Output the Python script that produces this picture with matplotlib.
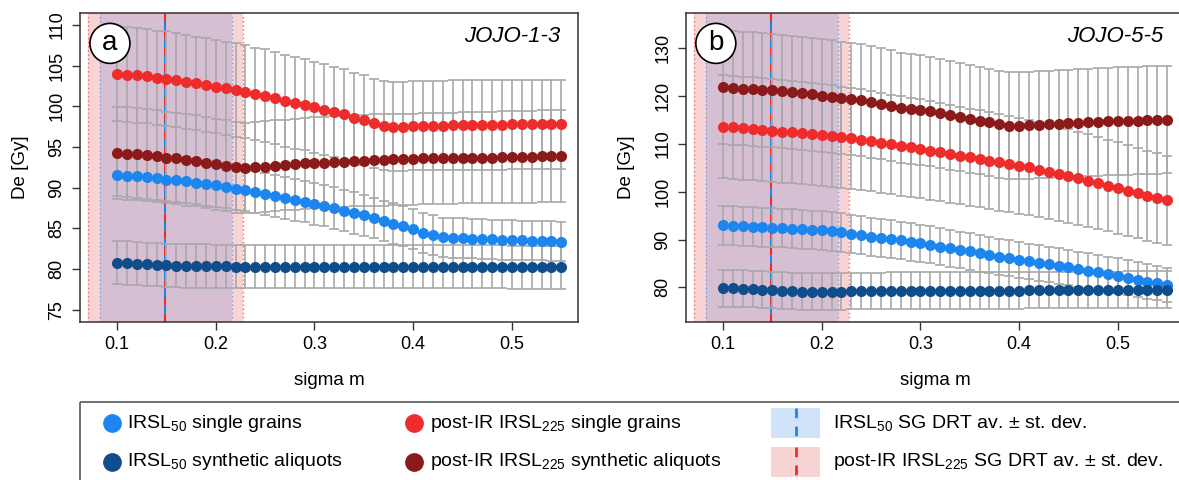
import numpy as np
import matplotlib
matplotlib.use("Agg")
from matplotlib import pyplot as plt
from matplotlib.patches import Ellipse, Rectangle

plt.rcParams['font.family'] = ['Liberation Sans', 'DejaVu Sans']
plt.rcParams['mathtext.fontset'] = 'custom'
plt.rcParams['mathtext.rm'] = 'Liberation Sans'
plt.rcParams['mathtext.default'] = 'regular'

#%% data
sigma_m = [0.10, 0.11, 0.12, 0.13, 0.14, 0.15, 0.16, 0.17, 0.18, 0.19,
           0.20, 0.21, 0.22, 0.23, 0.24, 0.25, 0.26, 0.27, 0.28, 0.29,
           0.30, 0.31, 0.32, 0.33, 0.34, 0.35, 0.36, 0.37, 0.38, 0.39,
           0.40, 0.41, 0.42, 0.43, 0.44, 0.45, 0.46, 0.47, 0.48, 0.49,
           0.50, 0.51, 0.52, 0.53, 0.54, 0.55]

# JOJO-1-3
a_irsl50_sg = [91.6, 91.5, 91.4, 91.3, 91.2, 91.0, 90.9, 90.8, 90.6, 90.4,
               90.3, 90.1, 89.9, 89.7, 89.5, 89.2, 89.0, 88.8, 88.5, 88.3,
               88.0, 87.8, 87.5, 87.2, 86.9, 86.6, 86.3, 85.9, 85.6, 85.3,
               84.9, 84.5, 84.2, 83.9, 83.85, 83.8, 83.75, 83.7, 83.65, 83.6,
               83.6, 83.55, 83.5, 83.5, 83.45, 83.4]
a_irsl50_sa = [80.8, 80.75, 80.7, 80.6, 80.55, 80.5, 80.45, 80.4, 80.4, 80.4,
               80.35, 80.35, 80.3, 80.3, 80.3, 80.3, 80.3, 80.3, 80.3, 80.3,
               80.3, 80.3, 80.3, 80.3, 80.3, 80.3, 80.3, 80.3, 80.3, 80.3,
               80.3, 80.3, 80.3, 80.3, 80.3, 80.3, 80.3, 80.3, 80.3, 80.3,
               80.25, 80.25, 80.25, 80.25, 80.25, 80.25]
a_pirir_sg = [104.0, 103.9, 103.8, 103.7, 103.5, 103.4, 103.2, 103.0, 102.8, 102.6,
              102.4, 102.2, 102.0, 101.8, 101.5, 101.3, 101.0, 100.7, 100.4, 100.2,
              99.9, 99.6, 99.3, 99.0, 98.6, 98.3, 97.9, 97.6, 97.5, 97.5,
              97.6, 97.6, 97.6, 97.6, 97.7, 97.7, 97.7, 97.7, 97.7, 97.7,
              97.8, 97.8, 97.8, 97.8, 97.8, 97.8]
a_pirir_sa = [94.3, 94.2, 94.1, 94.0, 93.9, 93.7, 93.6, 93.4, 93.3, 93.1,
              92.9, 92.7, 92.5, 92.4, 92.5, 92.6, 92.7, 92.8, 92.9, 93.0,
              93.1, 93.1, 93.2, 93.2, 93.3, 93.3, 93.4, 93.4, 93.5, 93.5,
              93.5, 93.6, 93.6, 93.6, 93.6, 93.7, 93.7, 93.7, 93.7, 93.8,
              93.8, 93.8, 93.8, 93.9, 93.9, 93.9]

# JOJO-5-5
b_irsl50_sg = [93.0, 92.9, 92.8, 92.7, 92.6, 92.5, 92.4, 92.3, 92.1, 92.0,
               91.9, 91.7, 91.5, 91.2, 90.9, 90.6, 90.3, 90.1, 89.8, 89.5,
               89.2, 88.9, 88.5, 88.2, 87.8, 87.5, 87.1, 86.8, 86.4, 86.1,
               85.7, 85.4, 85.1, 84.8, 84.5, 84.2, 83.8, 83.5, 83.1, 82.8,
               82.4, 82.0, 81.6, 81.2, 80.9, 80.5]
b_irsl50_sa = [79.8, 79.8, 79.7, 79.6, 79.5, 79.4, 79.3, 79.2, 79.1, 79.1,
               79.1, 79.1, 79.1, 79.2, 79.2, 79.2, 79.2, 79.3, 79.3, 79.3,
               79.3, 79.3, 79.3, 79.3, 79.3, 79.3, 79.3, 79.3, 79.3, 79.3,
               79.3, 79.4, 79.4, 79.4, 79.4, 79.4, 79.4, 79.4, 79.4, 79.4,
               79.4, 79.5, 79.5, 79.5, 79.5, 79.5]
b_pirir_sg = [113.6, 113.5, 113.3, 113.2, 113.0, 112.8, 112.6, 112.4, 112.3, 112.1,
              111.9, 111.7, 111.4, 111.2, 110.9, 110.6, 110.2, 109.9, 109.6, 109.3,
              108.95, 108.6, 108.25, 107.9, 107.55, 107.2, 106.85, 106.5, 106.15, 105.8,
              105.45, 105.1, 104.6, 104.2, 103.8, 103.3, 102.8, 102.3, 101.8, 101.3,
              100.8, 100.2, 99.7, 99.2, 98.7, 98.2]
b_pirir_sa = [121.9, 121.8, 121.6, 121.5, 121.3, 121.2, 121.0, 120.8, 120.6, 120.4,
              120.1, 119.9, 119.7, 119.45, 119.2, 118.8, 118.4, 118.0, 117.6, 117.3,
              117.1, 116.8, 116.4, 116.0, 115.6, 115.25, 114.9, 114.5, 114.1, 113.8,
              113.8, 113.9, 114.0, 114.1, 114.2, 114.3, 114.4, 114.5, 114.6, 114.7,
              114.8, 114.8, 114.9, 115.0, 115.0, 115.1]

# relative 1-sigma errors (error bar half length / De)
a_rel_err = [0.029, 0.033, 0.056, 0.060]
b_rel_err = [0.044, 0.048, 0.095, 0.098]

# DRT averages +- st. dev. (sigma m units)
drt_irsl50 = (0.149, 0.0825, 0.2165)
drt_pirir = (0.149, 0.0705, 0.228)

sample_names = ['JOJO-1-3', 'JOJO-5-5']
panel_letters = ['a', 'b']
a_yticks = [75, 80, 85, 90, 95, 100, 105, 110]
b_yticks = [80, 90, 100, 110, 120, 130]
xticks = [0.1, 0.2, 0.3, 0.4, 0.5]

c_sg50 = '#1c86ee'
c_sa50 = '#104e8b'
c_sg225 = '#ee2c2c'
c_sa225 = '#8b1a1a'
c_err = '#a8a8a8'
c_pink = '#f8d3d3'
c_purple = '#d7bfd3'
c_blue_fill = '#d0e3f8'

#%% figure
fig = plt.figure(figsize=(11.79, 4.8), dpi=100)
ax_a = fig.add_axes([0.0679, 0.3298, 0.4224, 0.6421])
ax_b = fig.add_axes([0.5818, 0.3298, 0.4224, 0.6421])


def draw_panel(ax, series, rel_err, ylim, yticks, letter, name, name_x):
    x = np.array(sigma_m)
    # DRT ranges
    ax.axvspan(drt_pirir[1], drt_pirir[2], color=c_pink, lw=0, zorder=0)
    ax.axvspan(drt_irsl50[1], drt_irsl50[2], color=c_purple, lw=0, zorder=0.5)
    for v in drt_pirir[1:]:
        ax.axvline(v, color='#f06a6a', lw=1.0, ls=(0, (1, 2)), zorder=1)
    for v in drt_irsl50[1:]:
        ax.axvline(v, color='#6a9ff0', lw=1.0, ls=(0, (1, 2)), zorder=1)
    ax.axvline(drt_pirir[0], color=c_sg225, lw=1.5, ls=(0, (4, 4)), zorder=1.2)
    ax.axvline(drt_irsl50[0], color=c_sg50, lw=1.5, ls=(4, (4, 4)), zorder=1.2)

    for y, e in zip(series, rel_err):
        y = np.array(y)
        ax.errorbar(x, y, yerr=y * e, fmt='none', ecolor=c_err, elinewidth=1.2,
                    capsize=3.5, capthick=1.2, zorder=2)
    colors = [c_sg50, c_sa50, c_sg225, c_sa225]
    for idx in [2, 3, 0, 1]:
        ax.plot(x, series[idx], 'o', color=colors[idx], ms=8, mec='none', zorder=3)

    ax.set_xlim(0.0625, 0.567)
    ax.set_ylim(*ylim)
    ax.set_xticks(xticks)
    ax.set_xticklabels(['0.1', '0.2', '0.3', '0.4', '0.5'])
    ax.set_yticks(yticks)
    ax.set_yticklabels([str(t) for t in yticks], rotation=90, va='center')
    ax.tick_params(direction='out', length=5.5, width=1.0, color='#333333',
                   labelsize=13, pad=5)
    for s in ax.spines.values():
        s.set_color('#333333')
        s.set_linewidth(1.1)
    ax.set_xlabel('sigma m', fontsize=13.5)
    ax.set_ylabel('De [Gy]', fontsize=13.5)
    ax.xaxis.set_label_coords(0.5, -0.19)
    ax.yaxis.set_label_coords(-0.12, 0.5)
    ax.xaxis.label.set_va('center')
    ax.yaxis.label.set_va('center')

    ax.add_patch(Ellipse((0.06, 0.903), 40 / 498, 40 / 308.4, transform=ax.transAxes,
                         fc='white', ec='black', lw=1.2, zorder=5))
    ax.text(0.06, 0.903, letter, transform=ax.transAxes, ha='center', va='center',
            fontsize=20, zorder=6)
    ax.text(name_x, 0.924, name, transform=ax.transAxes, ha='right', va='center',
            fontsize=16, style='italic', zorder=6)


draw_panel(ax_a, [a_irsl50_sg, a_irsl50_sa, a_pirir_sg, a_pirir_sa], a_rel_err,
           (73.56, 111.39), a_yticks, panel_letters[0], sample_names[0], 0.964)
draw_panel(ax_b, [b_irsl50_sg, b_irsl50_sa, b_pirir_sg, b_pirir_sa], b_rel_err,
           (72.8, 137.3), b_yticks, panel_letters[1], sample_names[1], 0.958)

#%% legend box below the panels (pixel coordinates)
lax = fig.add_axes([0, 0, 1, 1], zorder=10)
lax.set_xlim(0, 1179)
lax.set_ylim(480, 0)
lax.axis('off')
lax.add_patch(Rectangle((80, 401.5), 1200, 100, fill=False, ec='#666666', lw=1.3))

row_y = [423, 462]
lax.plot(111.5, row_y[0], 'o', color=c_sg50, ms=13.5, mec='none')
lax.plot(111.5, row_y[1], 'o', color=c_sa50, ms=13.5, mec='none')
lax.plot(413.5, row_y[0], 'o', color=c_sg225, ms=13.5, mec='none')
lax.plot(413.5, row_y[1], 'o', color=c_sa225, ms=13.5, mec='none')
lax.text(127, row_y[0], r'IRSL$_{50}$ single grains', fontsize=14, va='center')
lax.text(127, row_y[1], r'IRSL$_{50}$ synthetic aliquots', fontsize=14, va='center')
lax.text(430, row_y[0], r'post-IR IRSL$_{225}$ single grains', fontsize=14, va='center')
lax.text(430, row_y[1], r'post-IR IRSL$_{225}$ synthetic aliquots', fontsize=14, va='center')

lax.add_patch(Rectangle((771, 408), 49, 30, fc=c_blue_fill, ec='none'))
lax.add_patch(Rectangle((771, 447), 49, 30, fc=c_pink, ec='none'))
lax.plot([795.5, 795.5], [408, 438], color=c_sg50, lw=2, ls=(0, (3.5, 3)))
lax.plot([795.5, 795.5], [447, 477], color=c_sg225, lw=2, ls=(0, (3.5, 3)))
lax.text(833, row_y[0], r'IRSL$_{50}$ SG DRT av. ± st. dev.', fontsize=14, va='center')
lax.text(833, row_y[1], r'post-IR IRSL$_{225}$ SG DRT av. ± st. dev.', fontsize=14, va='center')

fig.savefig('out.png', dpi=100)
